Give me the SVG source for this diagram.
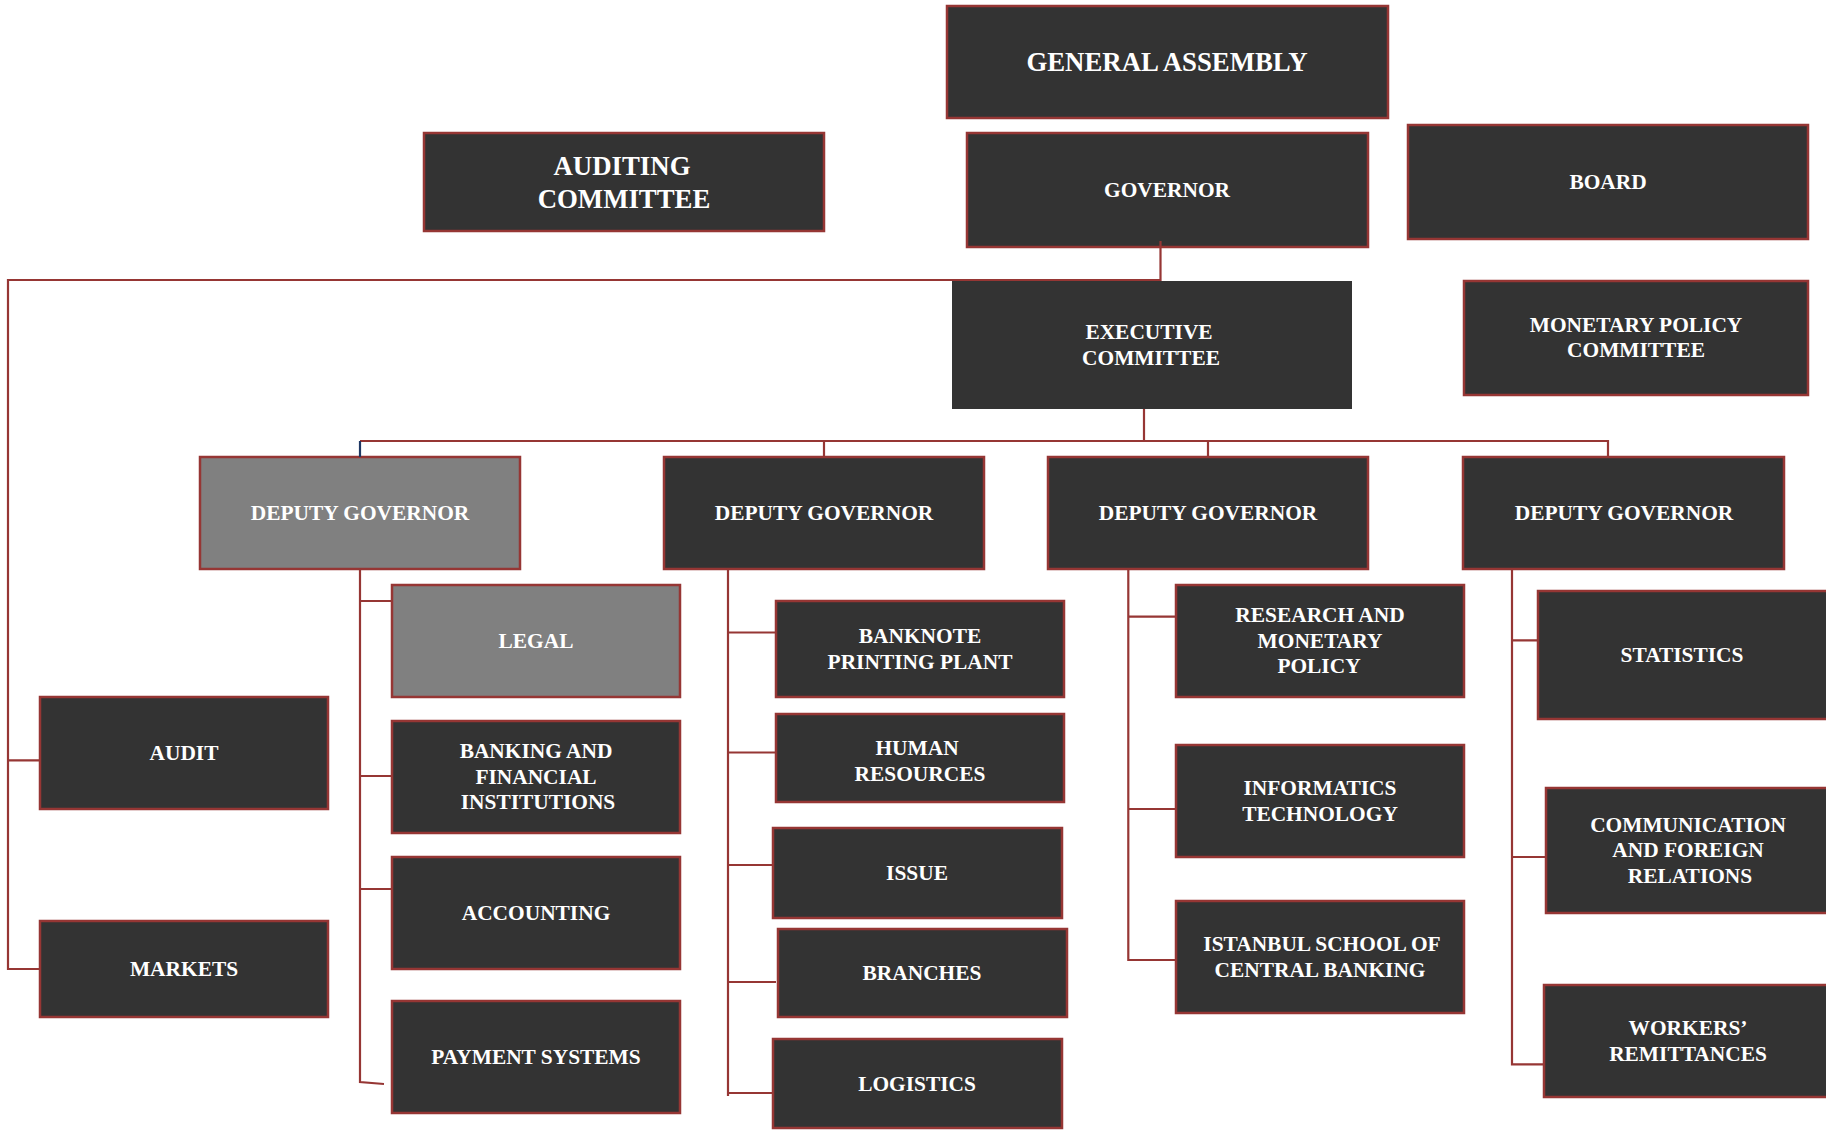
<svg xmlns="http://www.w3.org/2000/svg" width="1826" height="1132" viewBox="0 0 1826 1132">
<style>
.box{fill:#333333;stroke:#963634;stroke-width:2.5}
.grey{fill:#808080;stroke:#963634;stroke-width:2.5}
.nob{fill:#333333;stroke:none}
text{font-family:"Liberation Serif","Times New Roman",serif;font-weight:bold;fill:#ffffff;text-anchor:middle;dominant-baseline:central;font-size:21.4px}
.big{font-size:26.8px}
.ln{fill:none;stroke:#963634;stroke-width:2.2}
.navy{fill:none;stroke:#1f3864;stroke-width:2.2}
</style>
<rect width="1826" height="1132" fill="#ffffff"/>
<g id="general-assembly"><rect class="box" x="947" y="6" width="441" height="112"/><text class="big" x="1167" y="62">GENERAL ASSEMBLY</text></g>
<g id="auditing-committee"><rect class="box" x="424" y="133" width="400" height="98"/><text class="big" x="622" y="166">AUDITING</text><text class="big" x="624" y="199">COMMITTEE</text></g>
<g id="governor"><rect class="box" x="967" y="133" width="401" height="114"/><text x="1167" y="190">GOVERNOR</text></g>
<g id="board"><rect class="box" x="1408" y="125" width="400" height="114"/><text x="1608" y="182">BOARD</text></g>
<g id="executive-committee"><rect class="nob" x="952" y="281" width="400" height="128"/><text x="1149" y="332">EXECUTIVE</text><text x="1151" y="358">COMMITTEE</text></g>
<g id="monetary-policy-committee"><rect class="box" x="1464" y="281" width="344" height="114"/><text x="1636" y="325">MONETARY POLICY</text><text x="1636" y="350">COMMITTEE</text></g>
<g id="deputy-governor-1"><rect class="grey" x="200" y="457" width="320" height="112"/><text x="360" y="513">DEPUTY GOVERNOR</text></g>
<g id="deputy-governor-2"><rect class="box" x="664" y="457" width="320" height="112"/><text x="824" y="513">DEPUTY GOVERNOR</text></g>
<g id="deputy-governor-3"><rect class="box" x="1048" y="457" width="320" height="112"/><text x="1208" y="513">DEPUTY GOVERNOR</text></g>
<g id="deputy-governor-4"><rect class="box" x="1463" y="457" width="321" height="112"/><text x="1624" y="513">DEPUTY GOVERNOR</text></g>
<g id="legal"><rect class="grey" x="392" y="585" width="288" height="112"/><text x="536" y="641">LEGAL</text></g>
<g id="banking"><rect class="box" x="392" y="721" width="288" height="112"/><text x="536" y="751">BANKING AND</text><text x="536" y="777">FINANCIAL</text><text x="538" y="802">INSTITUTIONS</text></g>
<g id="accounting"><rect class="box" x="392" y="857" width="288" height="112"/><text x="536" y="913">ACCOUNTING</text></g>
<g id="payment-systems"><rect class="box" x="392" y="1001" width="288" height="112"/><text x="536" y="1057">PAYMENT SYSTEMS</text></g>
<g id="audit"><rect class="box" x="40" y="697" width="288" height="112"/><text x="184" y="753">AUDIT</text></g>
<g id="markets"><rect class="box" x="40" y="921" width="288" height="96"/><text x="184" y="969">MARKETS</text></g>
<g id="banknote-printing-plant"><rect class="box" x="776" y="601" width="288" height="96"/><text x="920" y="636">BANKNOTE</text><text x="920" y="662">PRINTING PLANT</text></g>
<g id="human-resources"><rect class="box" x="776" y="714" width="288" height="88"/><text x="917" y="748">HUMAN</text><text x="920" y="774">RESOURCES</text></g>
<g id="issue"><rect class="box" x="773" y="828" width="289" height="90"/><text x="917" y="873">ISSUE</text></g>
<g id="branches"><rect class="box" x="778" y="929" width="289" height="88"/><text x="922" y="973">BRANCHES</text></g>
<g id="logistics"><rect class="box" x="773" y="1039" width="289" height="89"/><text x="917" y="1084">LOGISTICS</text></g>
<g id="research"><rect class="box" x="1176" y="585" width="288" height="112"/><text x="1320" y="615">RESEARCH AND</text><text x="1320" y="641">MONETARY</text><text x="1319" y="666">POLICY</text></g>
<g id="informatics"><rect class="box" x="1176" y="745" width="288" height="112"/><text x="1320" y="788">INFORMATICS</text><text x="1320" y="814">TECHNOLOGY</text></g>
<g id="istanbul-school"><rect class="box" x="1176" y="901" width="288" height="112"/><text x="1322" y="944">ISTANBUL SCHOOL OF</text><text x="1320" y="970">CENTRAL BANKING</text></g>
<g id="statistics"><rect class="box" x="1538" y="591" width="290" height="128"/><text x="1682" y="655">STATISTICS</text></g>
<g id="communication"><rect class="box" x="1546" y="788" width="282" height="125"/><text x="1688" y="825">COMMUNICATION</text><text x="1688" y="850">AND FOREIGN</text><text x="1690" y="876">RELATIONS</text></g>
<g id="workers-remittances"><rect class="box" x="1544" y="985" width="284" height="112"/><text x="1688" y="1028">WORKERS’</text><text x="1688" y="1054">REMITTANCES</text></g>
<g id="connectors">
<path class="ln" d="M1160.5 241V280H8V969H40M8 760.4H40"/>
<path class="ln" d="M1144 409V441M360 441H1608V457M824 441V457M1208 441V457"/>
<path class="navy" d="M360 441V457"/>
<path class="ln" d="M360 569V1082L384 1084M360 601H392M360 776H392M360 889H392"/>
<path class="ln" d="M728 569V1096M728 632.5H776M728 752.5H776M728 865H773M728 982H776M728 1093H773"/>
<path class="ln" d="M1128.3 569V960H1176M1128.3 616.6H1176M1128.3 809H1176"/>
<path class="ln" d="M1512 569V1064.3H1544M1512 640.4H1538M1512 857H1546"/>
</g>
</svg>
